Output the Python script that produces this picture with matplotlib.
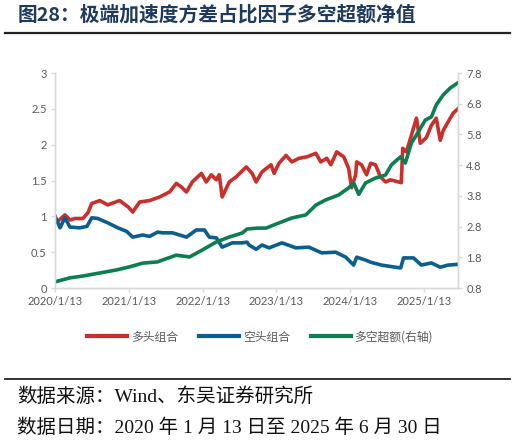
import matplotlib
matplotlib.use('Agg')
import matplotlib.pyplot as plt
from matplotlib.lines import Line2D
import pandas as pd

# 多头组合 (left axis)
long_dates = ['2020-01-13', '2020-01-23', '2020-03-02', '2020-03-27', '2020-04-21', '2020-05-30',
              '2020-06-24', '2020-07-13', '2020-08-22', '2020-09-30', '2020-11-28', '2021-01-10',
              '2021-02-01', '2021-03-07', '2021-04-25', '2021-06-14', '2021-08-02', '2021-09-05',
              '2021-09-30', '2021-10-25', '2021-11-23', '2022-01-07', '2022-01-31', '2022-02-25',
              '2022-03-22', '2022-04-05', '2022-04-20', '2022-05-25', '2022-06-28', '2022-08-17',
              '2022-09-15', '2022-10-05', '2022-11-03', '2022-12-18', '2023-01-02', '2023-01-26',
              '2023-03-02', '2023-03-31', '2023-05-05', '2023-06-13', '2023-07-28', '2023-08-21',
              '2023-09-20', '2023-10-10', '2023-11-08', '2023-12-13', '2024-01-06', '2024-01-21',
              '2024-02-10', '2024-02-15', '2024-03-10', '2024-04-04', '2024-04-24', '2024-05-18',
              '2024-06-12', '2024-07-07', '2024-07-31', '2024-09-23', '2024-09-30', '2024-10-18',
              '2024-11-12', '2024-12-07', '2024-12-26', '2025-01-25', '2025-02-19', '2025-03-15',
              '2025-04-04', '2025-04-19', '2025-05-13', '2025-06-07', '2025-06-30']
long_vals = [1.00, 0.92, 1.02, 0.95, 0.97, 0.97,
             1.05, 1.18, 1.22, 1.16, 1.22, 1.13,
             1.06, 1.20, 1.22, 1.27, 1.34, 1.46,
             1.41, 1.34, 1.48, 1.60, 1.48, 1.58,
             1.51, 1.58, 1.27, 1.48, 1.55, 1.69,
             1.60, 1.48, 1.62, 1.72, 1.60, 1.74,
             1.85, 1.76, 1.81, 1.83, 1.88, 1.76,
             1.81, 1.72, 1.90, 1.83, 1.67, 1.40,
             1.58, 1.76, 1.72, 1.58, 1.74, 1.72,
             1.55, 1.48, 1.51, 1.47, 1.95, 1.90,
             2.13, 2.37, 2.02, 2.10, 2.27, 2.37,
             2.06, 2.20, 2.32, 2.44, 2.50]

# 空头组合 (left axis)
short_dates = ['2020-01-13', '2020-02-07', '2020-03-02', '2020-03-27', '2020-05-15', '2020-06-19',
               '2020-07-13', '2020-08-12', '2020-09-30', '2020-11-19', '2021-01-02', '2021-02-01',
               '2021-03-22', '2021-04-25', '2021-06-04', '2021-06-28', '2021-08-17', '2021-10-25',
               '2021-12-13', '2022-01-22', '2022-02-15', '2022-03-22', '2022-04-20', '2022-06-09',
               '2022-07-28', '2022-08-21', '2022-08-31', '2022-10-05', '2022-11-03', '2022-12-08',
               '2023-02-10', '2023-04-20', '2023-06-23', '2023-08-26', '2023-11-03', '2023-12-23',
               '2024-01-31', '2024-02-15', '2024-03-30', '2024-04-24', '2024-06-17', '2024-08-25',
               '2024-09-20', '2024-10-04', '2024-11-22', '2024-12-31', '2025-02-19', '2025-04-04',
               '2025-05-13', '2025-06-30']
short_vals = [1.00, 0.84, 0.98, 0.85, 0.84, 0.86,
              0.98, 0.97, 0.91, 0.84, 0.79, 0.71,
              0.74, 0.72, 0.78, 0.77, 0.77, 0.71,
              0.81, 0.81, 0.71, 0.70, 0.57, 0.63,
              0.63, 0.64, 0.60, 0.54, 0.60, 0.56,
              0.63, 0.56, 0.57, 0.49, 0.50, 0.43,
              0.32, 0.43, 0.39, 0.36, 0.32, 0.29,
              0.28, 0.42, 0.42, 0.32, 0.35, 0.29,
              0.32, 0.33]

# 多空超额 (right axis)
ls_dates = ['2020-01-13', '2020-03-27', '2020-05-30', '2020-08-22', '2020-11-14', '2021-01-17',
            '2021-03-22', '2021-06-04', '2021-06-28', '2021-09-05', '2021-11-09', '2022-01-12',
            '2022-03-22', '2022-05-25', '2022-07-28', '2022-08-21', '2022-10-10', '2022-11-23',
            '2023-01-11', '2023-03-31', '2023-06-08', '2023-07-28', '2023-09-15', '2023-11-18',
            '2024-01-06', '2024-01-31', '2024-02-25', '2024-03-30', '2024-05-18', '2024-07-07',
            '2024-08-05', '2024-09-19', '2024-10-13', '2024-11-12', '2024-12-16', '2025-01-20',
            '2025-02-19', '2025-03-15', '2025-04-19', '2025-05-23', '2025-06-30']
ls_vals = [1.00, 1.13, 1.19, 1.29, 1.39, 1.49,
           1.61, 1.65, 1.71, 1.87, 1.81, 2.04,
           2.30, 2.46, 2.59, 2.72, 2.75, 2.75,
           2.88, 3.08, 3.18, 3.50, 3.67, 3.83,
           4.06, 4.22, 3.85, 4.22, 4.38, 4.48,
           4.81, 5.07, 4.87, 5.52, 5.88, 6.27,
           6.37, 6.76, 7.09, 7.31, 7.48]

xtick_dates = ['2020-01-13', '2021-01-13', '2022-01-13', '2023-01-13', '2024-01-13', '2025-01-13']
xtick_labels = ['2020/1/13', '2021/1/13', '2022/1/13', '2023/1/13', '2024/1/13', '2025/1/13']
left_ticks = [0, 0.5, 1, 1.5, 2, 2.5, 3]
left_labels = ['0', '0.5', '1', '1.5', '2', '2.5', '3']
right_ticks = [0.8, 1.8, 2.8, 3.8, 4.8, 5.8, 6.8, 7.8]
right_labels = ['0.8', '1.8', '2.8', '3.8', '4.8', '5.8', '6.8', '7.8']

series_names = ['多头组合', '空头组合', '多空超额(右轴)']
colors = ['#C9302C', '#0A5F8E', '#0B7F4F']

plt.rcParams['font.family'] = ['Lato', 'Noto Sans CJK SC', 'DejaVu Sans']

fig = plt.figure(figsize=(5.15, 4.42), dpi=100)
ax = fig.add_axes([0.1068, 0.3484, 0.889 - 0.1068, 0.8348 - 0.3484])
ax2 = ax.twinx()

ax.plot(pd.to_datetime(long_dates), long_vals, color=colors[0], lw=2.6, solid_joinstyle='round')
ax.plot(pd.to_datetime(short_dates), short_vals, color=colors[1], lw=2.6, solid_joinstyle='round')
ax2.plot(pd.to_datetime(ls_dates), ls_vals, color=colors[2], lw=2.6, solid_joinstyle='round')

ax.set_xlim(pd.Timestamp('2020-01-13'), pd.Timestamp('2025-06-30'))
ax.set_ylim(0, 3)
ax2.set_ylim(0.8, 7.8)
ax.set_xticks(pd.to_datetime(xtick_dates))
ax.set_xticklabels(xtick_labels)
ax.set_yticks(left_ticks)
ax.set_yticklabels(left_labels)
ax2.set_yticks(right_ticks)
ax2.set_yticklabels(right_labels)

grey = '#595959'
for a in (ax, ax2):
    a.spines['top'].set_visible(False)
    for s in ('left', 'right', 'bottom'):
        a.spines[s].set_color('#D9D9D9')
        a.spines[s].set_linewidth(1.0)
    a.tick_params(colors='#D9D9D9', labelcolor=grey, labelsize=8, length=3, width=1, pad=3)

# title and rules
fig.text(0.035, 0.966, '图28：极端加速度方差占比因子多空超额净值', fontsize=14.2, fontweight='bold',
         color='#1F3A5F', va='center', ha='left', family=['Noto Sans CJK SC'])
fig.add_artist(Line2D([0.01, 0.99], [1 - 33 / 442] * 2, color='#222222', lw=1.6))
fig.add_artist(Line2D([0.01, 0.99], [1 - 379 / 442] * 2, color='#222222', lw=1.3))

handles = [Line2D([], [], color=c, lw=3) for c in colors]
fig.legend(handles, series_names, loc='center', bbox_to_anchor=(0.505, 1 - 337 / 442), ncol=3,
           frameon=False, handlelength=3.4, handletextpad=0.3, columnspacing=1.8,
           labelcolor=grey, prop={'family': ['Noto Sans CJK SC'], 'size': 8.5})

fig.text(0.033, 1 - 397 / 442, '数据来源：Wind、东吴证券研究所', fontsize=14, va='center', ha='left',
         family=['Liberation Serif', 'Noto Sans CJK SC'], color='#111111')
fig.text(0.033, 1 - 428 / 442, '数据日期：2020 年 1 月 13 日至 2025 年 6 月 30 日', fontsize=14,
         va='center', ha='left', family=['Liberation Serif', 'Noto Sans CJK SC'], color='#111111')

fig.savefig('out.png', dpi=100)
